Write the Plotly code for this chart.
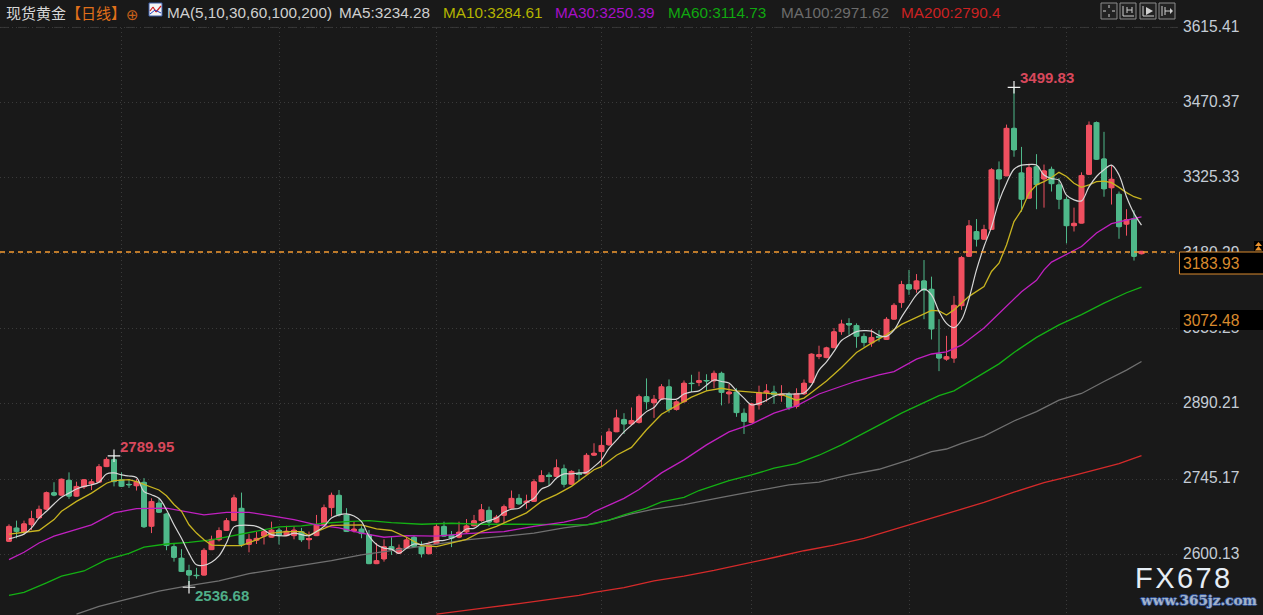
import plotly.graph_objects as go

# ---------- data ----------
opens = [2625,2651,2643,2657,2670,2687,2719,2714,2743,2712,
2730,2737,2739,2769,2783,2744,2735,2732,2739,2654,
2699,2678,2615,2593,2569,2560,2560,2609,2628,2646,
2665,2689,2619,2627,2635,2633,2647,2636,2636,2644,
2628,2636,2657,2690,2714,2676,2645,2649,2638,2582,
2591,2615,2602,2612,2633,2615,2601,2620,2654,2637,
2633,2643,2655,2665,2685,2662,2675,2689,2708,2700,
2702,2740,2753,2750,2765,2735,2756,2755,2791,2798,
2811,2836,2860,2851,2854,2904,2892,2899,2923,2879,
2894,2930,2931,2935,2934,2949,2909,2913,2872,2854,
2888,2912,2913,2907,2909,2885,2909,2931,2981,2979,
2998,3029,3044,3041,3020,3007,3020,3014,3053,3085,
3120,3111,3127,3111,2986,2976,2978,3079,3174,3222,
3207,3226,3341,3329,3421,3335,3286,3347,3323,3342,
3312,3284,3233,3238,3332,3432,3362,3306,3294,3236,
3247,3179]
highs = [2658,2665,2665,2684,2694,2721,2739,2746,2758,2740,
2745,2745,2774,2787,2789.95,2758,2745,2745,2747,2708,
2708,2680,2622,2610,2580,2574,2612,2636,2652,2670,
2715,2719,2639,2644,2647,2663,2651,2655,2654,2651,
2644,2676,2696,2719,2724,2689,2663,2654,2647,2622,
2629,2633,2619,2633,2636,2625,2625,2659,2663,2645,
2663,2668,2676,2697,2692,2676,2696,2723,2716,2715,
2745,2762,2758,2783,2773,2762,2764,2795,2814,2829,
2843,2879,2872,2883,2908,2939,2907,2928,2937,2897,
2935,2946,2952,2947,2954,2952,2928,2920,2881,2892,
2925,2928,2925,2926,2913,2920,2937,2987,3002,3000,
3036,3052,3055,3045,3026,3034,3032,3057,3084,3127,
3148,3140,3167,3135,3053,3021,3098,3175,3244,3246,
3235,3344,3357,3428,3499.83,3385,3353,3371,3351,3347,
3325,3289,3268,3336,3434,3434,3414,3350,3299,3265,
3263,3184]
lows = [2625,2631,2640,2647,2670,2686,2712,2714,2707,2712,
2726,2724,2739,2769,2731,2730,2728,2723,2651,2641,
2680,2608,2586,2567,2536.68,2553,2560,2609,2625,2646,
2665,2614,2604,2620,2619,2633,2619,2635,2629,2624,
2610,2636,2657,2673,2673,2644,2642,2631,2582,2582,
2586,2599,2602,2612,2615,2594,2601,2620,2635,2614,
2631,2641,2654,2663,2654,2660,2660,2687,2696,2688,
2702,2740,2732,2750,2729,2734,2741,2755,2790,2769,
2809,2836,2832,2849,2852,2879,2863,2899,2873,2877,
2892,2913,2924,2915,2920,2887,2891,2865,2832,2854,
2879,2894,2890,2894,2878,2881,2907,2930,2976,2978,
2998,3023,3023,2998,3000,3000,3010,3014,3053,3075,
3100,3104,3053,3014,2953,2973,2969,3071,3174,3193,
3207,3226,3284,3329,3366,3260,3286,3265,3268,3299,
3265,3199,3222,3238,3331,3360,3289,3274,3208,3214,
3166,3178]
closes = [2654,2644,2659,2669,2687,2719,2714,2745,2712,2731,
2744,2740,2769,2783,2740,2731,2734,2740,2653,2702,
2681,2617,2594,2567,2560,2559,2608,2629,2646,2665,
2709,2619,2629,2631,2644,2647,2636,2645,2647,2628,
2630,2657,2690,2714,2676,2644,2649,2640,2582,2588,
2615,2609,2612,2628,2615,2601,2619,2654,2635,2631,
2643,2655,2665,2686,2662,2672,2692,2708,2697,2703,
2740,2752,2750,2767,2735,2760,2754,2791,2795,2810,
2836,2863,2851,2858,2904,2894,2899,2923,2879,2894,
2930,2929,2935,2934,2949,2912,2913,2873,2856,2890,
2912,2915,2907,2909,2883,2910,2930,2986,2985,2998,
3029,3044,3042,3020,3008,3018,3018,3053,3080,3120,
3111,3127,3109,3034,2978,2981,3080,3172,3233,3207,
3226,3341,3323,3421,3379,3284,3345,3312,3339,3314,
3284,3233,3238,3330,3427,3361,3304,3323,3231,3245,
3174,3183.93]

ma5_y = [2630,2634,2639,2651,2670,2683,2697,2710,2718,2726,
2731,2734,2739,2755,2757,2753,2751,2748,2721,2715,
2708,2686,2657,2631,2602,2580,2579,2585,2597,2622,
2653,2656,2656,2654,2647,2638,2636,2636,2641,2638,
2636,2644,2654,2670,2676,2678,2674,2663,2635,2619,
2612,2610,2602,2612,2620,2619,2622,2626,2627,2631,
2638,2649,2650,2660,2665,2670,2681,2687,2689,2700,
2708,2726,2732,2747,2755,2755,2757,2758,2769,2782,
2804,2820,2836,2849,2862,2875,2883,2899,2899,2899,
2909,2913,2915,2926,2936,2933,2930,2915,2901,2888,
2891,2897,2905,2909,2909,2909,2911,2926,2955,2971,
2991,3012,3021,3029,3031,3030,3022,3020,3032,3057,
3079,3100,3111,3100,3068,3045,3037,3052,3093,3148,
3193,3231,3280,3315,3342,3350,3351,3350,3331,3324,
3321,3292,3283,3281,3308,3328,3341,3350,3331,3289,
3257,3234.28]
ma5_x = list(range(152))

ma10_x = [0,2,4,6,7,9,11,13,14,16,17,20,21,22,23,24,25,26,27,29,31,33,35,37,39,40,41,43,45,47,49,51,53,55,57,59,61,63,65,67,69,71,73,75,77,78,79,81,83,85,87,89,91,93,95,97,99,101,103,105,106,107,109,111,113,115,117,119,121,123,124,125,126,128,130,131,132,133,134,135,136,137,138,139,140,141,142,143,144,145,146,147,148,149,150,151]
ma10_y = [2639,2642,2646,2667,2683,2702,2718,2737,2742,2744,2740,2724,2713,2696,2683,2657,2641,2628,2618,2617,2617,2628,2641,2644,2644,2636,2644,2656,2657,2657,2649,2646,2633,2617,2615,2622,2629,2644,2654,2667,2680,2702,2715,2731,2753,2763,2769,2791,2806,2840,2870,2886,2903,2915,2920,2915,2913,2910,2908,2897,2901,2912,2934,2960,2989,3007,3023,3043,3057,3070,3069,3061,3071,3097,3116,3145,3161,3196,3241,3263,3296,3312,3318,3326,3336,3328,3315,3307,3312,3318,3319,3316,3307,3297,3289,3284.61]

ma30_x = [0,2,4,6,8,11,14,17,21,23,26,29,32,35,38,41,44,47,50,53,57,61,66,70,74,77,78,80,82,84,87,90,93,96,99,102,105,108,111,113,116,118,121,123,125,127,130,133,135,137,138,139,143,145,147,149,151]
ma30_y = [2590,2604,2622,2635,2644,2657,2680,2688,2689,2684,2676,2681,2681,2674,2667,2657,2651,2641,2633,2636,2635,2640,2644,2654,2662,2672,2682,2695,2708,2725,2757,2782,2811,2836,2851,2872,2886,2909,2924,2934,2946,2952,2976,2986,2990,3003,3036,3077,3106,3128,3148,3163,3193,3219,3237,3244,3250.39]

ma60_x = [0,2,5,7,10,13,16,18,21,24,27,30,33,36,39,42,45,48,51,55,59,63,68,73,77,78,80,82,85,87,90,92,96,99,102,105,108,111,114,116,119,122,124,126,129,132,134,137,140,143,146,149,151]
ma60_y = [2521,2527,2545,2558,2568,2590,2602,2614,2620,2623,2628,2636,2644,2653,2655,2660,2663,2665,2661,2658,2660,2658,2658,2657,2657,2659,2666,2676,2689,2701,2710,2723,2742,2753,2766,2775,2791,2811,2833,2849,2872,2893,2906,2915,2941,2967,2989,3018,3042,3062,3084,3104,3114.73]

ma100_x = [9,12,15,18,20,24,28,32,35,39,43,47,52,57,61,66,70,74,77,80,83,86,90,95,100,104,108,112,116,120,123,125,127,130,134,137,140,143,146,149,151]
ma100_y = [2485,2500,2511,2521,2529,2540,2549,2563,2570,2578,2588,2599,2609,2619,2628,2635,2641,2651,2657,2666,2678,2687,2696,2710,2724,2734,2739,2753,2764,2782,2798,2803,2814,2828,2857,2875,2897,2910,2933,2955,2971.62]

ma200_x = [57,60,64,68,72,76,78,82,86,90,94,98,102,106,110,114,117,122,126,130,134,138,142,145,148,151]
ma200_y = [2485,2491,2498,2505,2513,2521,2527,2536,2549,2558,2569,2581,2594,2607,2618,2631,2644,2666,2684,2700,2720,2738,2752,2763,2775,2790.4]

extreme_x = [14, 24, 134]
extreme_y = [2789.95, 2536.68, 3499.83]
extreme_labels = ["2789.95", "2536.68", "3499.83"]

tick_values = [3615.41, 3470.37, 3325.33, 3180.29, 3035.25, 2890.21, 2745.17, 2600.13]
tick_labels = ["3615.41", "3470.37", "3325.33", "3180.29", "3035.25", "2890.21", "2745.17", "2600.13"]
month_lines = [15, 36, 57, 79, 99, 120, 141]
last_price_line = 3182.5
last_price_label = "3183.93"
cursor_label = "3072.48"

header_items = [
    ("现货黄金", 6, "#d8d8d8", "Noto Sans CJK SC"),
    ("【日线】", 66, "#e0701a", "Noto Sans CJK SC"),
    ("MA(5,10,30,60,100,200)", 167, "#d0d0d0", "Liberation Sans"),
    ("MA5:3234.28", 339, "#d0d0d0", "Liberation Sans"),
    ("MA10:3284.61", 443, "#b4b400", "Liberation Sans"),
    ("MA30:3250.39", 555, "#a810c8", "Liberation Sans"),
    ("MA60:3114.73", 668, "#10a810", "Liberation Sans"),
    ("MA100:2971.62", 781, "#6c6c6c", "Liberation Sans"),
    ("MA200:2790.4", 901, "#cc2222", "Liberation Sans"),
]

# ---------- style ----------
W, H = 1263, 615
PLOT_W = 1178
BG = "#191919"
GRID = "#3a3a3a"
RED = "#ef5060"
GREEN = "#4fb88a"
ORANGE = "#d98a2e"
U = 1.9265            # price per pixel
X_STEP = 7.5

def X(p): return p / PLOT_W
def Y(p): return 1 - p / H

candle_x = list(range(len(opens)))
fig = go.Figure()
# bodies widened with bars under the candlestick
fig.add_trace(go.Bar(
    x=candle_x, base=[min(o, c) for o, c in zip(opens, closes)],
    y=[abs(c - o) for o, c in zip(opens, closes)], width=0.8,
    marker=dict(color=[RED if c >= o else GREEN for o, c in zip(opens, closes)], line=dict(width=0)),
    showlegend=False, hoverinfo="skip"))
fig.add_trace(go.Candlestick(
    x=candle_x, open=opens, high=highs, low=lows, close=closes,
    increasing=dict(line=dict(color=RED, width=1), fillcolor=RED),
    decreasing=dict(line=dict(color=GREEN, width=1), fillcolor=GREEN),
    whiskerwidth=0, showlegend=False, hoverinfo="skip"))

for xs, ys, col, w, sh in [
    (ma200_x, ma200_y, "#d42a2a", 1.3, "linear"),
    (ma100_x, ma100_y, "#707070", 1.3, "linear"),
    (ma60_x, ma60_y, "#14b014", 1.3, "linear"),
    (ma30_x, ma30_y, "#c020c0", 1.3, "linear"),
    (ma10_x, ma10_y, "#c8b420", 1.3, "linear"),
    (ma5_x, ma5_y, "#d6d6d6", 1.2, "spline"),
]:
    fig.add_trace(go.Scatter(x=xs, y=ys, mode="lines", showlegend=False, hoverinfo="skip",
                             line=dict(color=col, width=w, shape=sh)))

fig.add_trace(go.Scatter(x=extreme_x, y=extreme_y, mode="markers", showlegend=False, hoverinfo="skip",
                         marker=dict(symbol="cross-thin", size=9, line=dict(color="#f0f0f0", width=1.2))))
# carrier trace so that the label axis is drawn
fig.add_trace(go.Scatter(x=[0], y=[tick_values[0]], yaxis="y2", mode="markers", marker=dict(opacity=0),
                         showlegend=False, hoverinfo="skip"))

shapes = []
def rect(x0, y0, x1, y1, fill, line=None, lw=1, layer="above"):
    shapes.append(dict(type="rect", xref="paper", yref="paper", x0=X(x0), x1=X(x1), y0=Y(y0), y1=Y(y1),
                       fillcolor=fill, line=dict(color=line or fill, width=lw if line else 0), layer=layer))
def seg(x0, y0, x1, y1, col, lw=1):
    shapes.append(dict(type="line", xref="paper", yref="paper", x0=X(x0), x1=X(x1), y0=Y(y0), y1=Y(y1),
                       line=dict(color=col, width=lw), layer="above"))
def poly(points, fill):
    d = "M" + " L".join(f"{X(a):.5f},{Y(b):.5f}" for a, b in points) + " Z"
    shapes.append(dict(type="path", xref="paper", yref="paper", path=d, fillcolor=fill, line=dict(width=0), layer="above"))

# header mask over vertical grid
rect(0, 0, PLOT_W, 26.5, BG)
# top dashed grid line and price line
shapes.append(dict(type="line", xref="paper", yref="y", x0=0, x1=1, y0=tick_values[0], y1=tick_values[0],
                   line=dict(color="#3a3a3a", width=1, dash="dash"), layer="below"))
shapes.append(dict(type="line", xref="paper", yref="y", x0=0, x1=1, y0=last_price_line, y1=last_price_line,
                   line=dict(color="#f59a30", width=1.5, dash="5px,4px"), layer="above"))
# right hand price boxes
rect(1179.5, 252, H * 3, 274, "#000000", ORANGE, 1)
rect(1180, 310, H * 3, 330, "#000000")
rect(1254, 241, 1263, 251, "#000000")
poly([(1258.5, 242), (1262, 246), (1255, 246)], "#e8912d")
poly([(1258.5, 246), (1262, 250.5), (1255, 250.5)], "#e8912d")
# small indicator icon in the header
rect(149, 3, 162, 16, "#f4f4f4", "#3a5ca8", 1)
seg(150, 11, 153, 7, "#d02020", 1.2); seg(153, 7, 156, 12, "#d02020", 1.2); seg(156, 12, 161, 6, "#d02020", 1.2)
seg(150, 14, 155, 10, "#2040c0", 1); seg(155, 10, 161, 13, "#2040c0", 1)
# toolbar buttons
for x0 in (1101, 1120, 1140, 1159):
    rect(x0, 3, x0 + 16, 19, "#222222", "#8c8c8c", 1)
c = "#cfcfcf"
seg(1109, 5, 1109, 8, c); seg(1109, 14, 1109, 17, c); seg(1103, 11, 1106, 11, c); seg(1112, 11, 1115, 11, c)
seg(1123, 6, 1123, 16, c); seg(1123, 16, 1134, 16, c); seg(1127, 7, 1127, 13, c); seg(1127, 10, 1132, 10, c); seg(1132, 7, 1132, 13, c)
seg(1143, 6, 1143, 16, c); seg(1143, 16, 1154, 16, c); poly([(1146, 7), (1153, 11), (1146, 15)], c)
seg(1162, 6, 1162, 16, c); seg(1165, 7, 1165, 15, c); seg(1165, 11, 1172, 11, c); poly([(1170, 8), (1173, 11), (1170, 14)], c)

anns = []
def text(s, x, y, size, col, family="Liberation Sans", anchor="left", **kw):
    anns.append(dict(text=s, xref="paper", yref="paper", x=X(x), y=Y(y), xanchor=anchor, yanchor="middle",
                     showarrow=False, borderpad=0, font=dict(size=size, color=col, family=family, **kw)))

for s, x, col, fam in header_items:
    text(s, x - 1, 12, 15 if "CJK" in fam else 15.3, col, fam)
text("⊕", 125, 15, 15, "#c8601a", "DejaVu Sans")
text(last_price_label, 1182, 263, 15.6, ORANGE)
text(cursor_label, 1182, 320, 15.6, ORANGE)
text("F\u200aX\u200a6\u200a7\u200a8", 1134, 578, 29, "#e6edf5")
text("www.365jz.com", 1139, 600, 13.6, "#a3b3c9", "DejaVu Serif", weight="bold",
     shadow="1px 0 0 #2c4c90, -1px 0 0 #2c4c90, 0 1px 0 #2c4c90, 0 -1px 0 #2c4c90")

for xv, yv, lab, col, dx, dy in zip(extreme_x, extreme_y, extreme_labels,
                                    ["#d8485c", "#4fae88", "#d8485c"], [5, 5, 5], [9, -8, 10]):
    anns.append(dict(text=lab, x=xv, y=yv, xref="x", yref="y", xanchor="left", yanchor="middle", showarrow=False,
                     xshift=dx, yshift=dy, borderpad=0,
                     font=dict(size=15, color=col, family="Liberation Sans", weight="bold")))

y_lo = 3615.41 - (H - 27.3) * U
y_hi = 3615.41 + 27.3 * U
label_lift = 1.0 * U
fig.update_layout(
    width=W, height=H, margin=dict(l=0, r=W - PLOT_W, t=0, b=0, autoexpand=False),
    paper_bgcolor=BG, plot_bgcolor=BG, showlegend=False, barmode="overlay",
    shapes=shapes, annotations=anns,
    xaxis=dict(range=[-9 / X_STEP, (PLOT_W - 9) / X_STEP], rangeslider=dict(visible=False), showticklabels=False,
               tickmode="array", tickvals=month_lines, showgrid=True, gridcolor=GRID, griddash="1px,3px", gridwidth=1,
               zeroline=False, showline=False, ticks=""),
    yaxis=dict(range=[y_lo, y_hi], side="right", tickmode="array", showticklabels=False,
               tickvals=tick_values, showgrid=True, gridcolor=GRID, griddash="1px,3px", gridwidth=1,
               zeroline=False, showline=False, ticks=""),
    yaxis2=dict(range=[y_lo - label_lift, y_hi - label_lift], overlaying="y", side="right", tickmode="array",
                tickvals=tick_values, ticktext=tick_labels, showgrid=False, zeroline=False, showline=False,
                ticks="", ticklabelstandoff=4, tickfont=dict(size=15.6, color="#c4ccd6", family="Liberation Sans")),
)
fig.write_html("out.html", config=dict(displayModeBar=False),
               post_script="document.body.style.margin='0';document.body.style.overflow='hidden';document.body.style.background='#191919';")
